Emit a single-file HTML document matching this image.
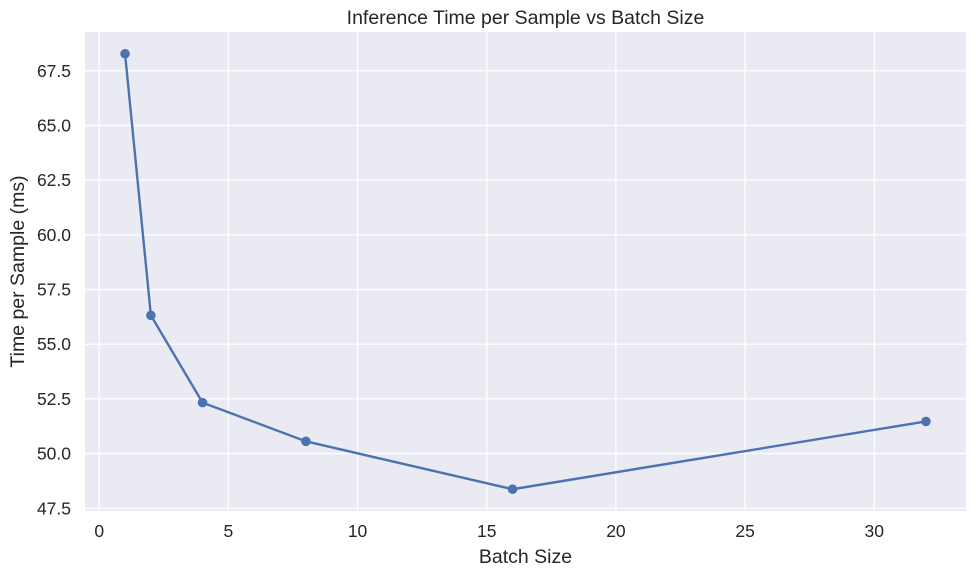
<!DOCTYPE html>
<html><head><meta charset="utf-8"><style>
body{margin:0;background:#fff;font-family:"Liberation Sans",sans-serif}
</style></head><body>
<svg id="chart" width="976" height="576" xmlns="http://www.w3.org/2000/svg"></svg>
<script>
const batchSizes=[1,2,4,8,16,32];
const timesMs=[68.28,56.32,52.33,50.56,48.37,51.47];
const xTicks=[0,5,10,15,20,25,30];
const yTicks=[47.5,50.0,52.5,55.0,57.5,60.0,62.5,65.0,67.5];
const svg=document.getElementById('chart');
const NS='http://www.w3.org/2000/svg';
const L=85,R=966,T=32,B=511;
const xmin=Math.min(...batchSizes),xmax=Math.max(...batchSizes);
const ymin=Math.min(...timesMs),ymax=Math.max(...timesMs);
const xm=(xmax-xmin)*0.05,ym=(ymax-ymin)*0.05;
const x0=xmin-xm,x1=xmax+xm,y0=ymin-ym,y1=ymax+ym;
const sx=v=>L+(v-x0)/(x1-x0)*(R-L);
const sy=v=>B-(v-y0)/(y1-y0)*(B-T);
function mk(tag,attrs,text){const e=document.createElementNS(NS,tag);for(const k in attrs)e.setAttribute(k,attrs[k]);if(text!==undefined)e.textContent=text;svg.appendChild(e);return e;}
let e=mk('rect',{x:L,y:T,width:R-L,height:B-T,fill:'#eaeaf2'});


xTicks.forEach(t=>{const x=sx(t);
 let g=mk('line',{x1:x,x2:x,y1:T,y2:B,stroke:'#fff','stroke-width':1.3});
 
 
 let l=mk('text',{x:x,y:537,'text-anchor':'middle','font-size':17.5,fill:'#262626'},String(t));
 
 
});
yTicks.forEach(t=>{const y=sy(t);
 let g=mk('line',{x1:L,x2:R,y1:y,y2:y,stroke:'#fff','stroke-width':1.3});
 
 
 let l=mk('text',{x:L-14,y:y+6,'text-anchor':'end','font-size':17.5,fill:'#262626'},t.toFixed(1));
 
 
});
const pts=batchSizes.map((b,i)=>sx(b)+','+sy(timesMs[i])).join(' ');
let pl=mk('polyline',{points:pts,fill:'none',stroke:'#4c72b0','stroke-width':2.4});


batchSizes.forEach((b,i)=>{
 let c=mk('circle',{cx:sx(b),cy:sy(timesMs[i]),r:4.8,fill:'#4c72b0'});
 
 
});
let t=mk('text',{x:(L+R)/2,y:24,'text-anchor':'middle','font-size':19.5,fill:'#262626'},'Inference Time per Sample vs Batch Size');


let xl=mk('text',{x:(L+R)/2,y:563,'text-anchor':'middle','font-size':19.5,fill:'#262626'},'Batch Size');


let yl=mk('text',{x:24,y:(T+B)/2,'text-anchor':'middle','font-size':19.5,fill:'#262626',transform:'rotate(-90 24 '+((T+B)/2)+')'},'Time per Sample (ms)');


</script>
</body></html>
